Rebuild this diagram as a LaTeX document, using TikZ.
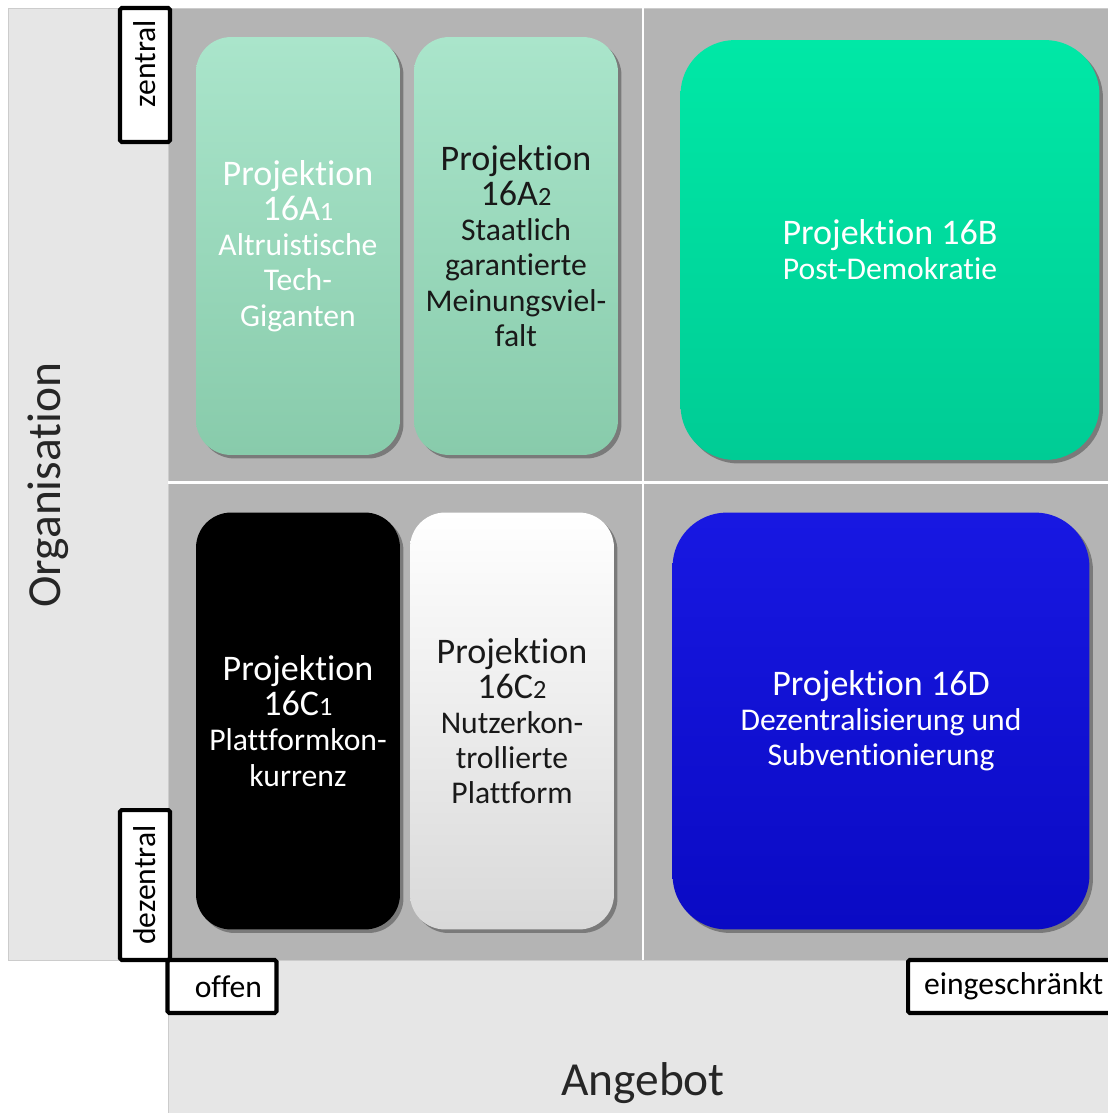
\documentclass[tikz,border=0pt]{standalone}
\usepackage{fontspec}
\setmainfont[Ligatures={NoCommon}]{Carlito}
\usetikzlibrary{shadows}
\definecolor{panelgray}{HTML}{E6E6E6}
\definecolor{fieldgray}{HTML}{B4B4B4}
\definecolor{mintlight}{HTML}{AAE5CB}
\definecolor{mintdark}{HTML}{88CBAB}
\definecolor{greenlight}{HTML}{00E8A6}
\definecolor{greendark}{HTML}{00CC95}
\definecolor{bluelight}{HTML}{1818E2}
\definecolor{bluedark}{HTML}{0A0AC4}
\newcommand{\projhead}{\fontsize{20.5}{21}\selectfont}
\newcommand{\projsub}{\fontsize{18}{20}\selectfont}
\newcommand{\idx}[1]{{\fontsize{15}{15}\selectfont #1}}
\begin{document}
\begin{tikzpicture}[x=0.02cm, y=-0.02cm,
  proj/.style={rounded corners=20pt, minimum width=4.08cm, minimum height=8.36cm, align=center, inner sep=2pt,
    font=\projsub, drop shadow={shadow xshift=2pt, shadow yshift=-2pt, opacity=0.55, fill=black!70}},
  big proj/.style={proj, rounded corners=31pt, minimum width=8.38cm, minimum height=8.4cm},
  tag/.style={draw=black, line width=2.3pt, fill=white, rounded corners=1pt, inner ysep=0pt, minimum height=1cm, font=\fontsize{18}{18}\selectfont},
  axis/.style={font=\fontsize{27}{27}\selectfont, text=black!85}]
\useasboundingbox (0,0) rectangle (1107,1113);
% panels
\fill[white] (0,0) rectangle (1107,1113);
\draw[black!20, fill=panelgray] (8,8) rectangle (168,960);
\draw[black!20, fill=panelgray] (168,960) rectangle (1115,1120);
\draw[black!20, fill=fieldgray] (168,8) rectangle (1115,960);
\draw[white, line width=1.7pt] (643,8) -- (643,960);
\draw[white, line width=1.7pt] (168,482) -- (1115,482);
\begin{scope}
\node[proj, top color=mintlight, bottom color=mintdark, text=white] (p16a1) at (298,246)
  {\projhead Projektion\\\projhead 16A\idx{1}\\\projsub Altruistische\\\projsub Tech-\\\projsub Giganten};
\node[proj, top color=mintlight, bottom color=mintdark, text=black!90] (p16a2) at (516,246)
  {\projhead Projektion\\\projhead 16A\idx{2}\\\projsub Staatlich\\\projsub garantierte\\\projsub Meinungsviel-\\\projsub falt};
\node[big proj, top color=greenlight, bottom color=greendark, text=white] (p16b) at (890,250)
  {\projhead Projektion 16B\\\projsub Post-Demokratie};
\node[proj, fill=black, text=white, minimum height=8.34cm] (p16c1) at (298,721)
  {\projhead Projektion\\\projhead 16C\idx{1}\\\projsub Plattformkon-\\\projsub kurrenz};
\node[proj, top color=white, bottom color=black!15, text=black!90, minimum height=8.34cm] (p16c2) at (512,721)
  {\projhead Projektion\\\projhead 16C\idx{2}\\\projsub Nutzerkon-\\\projsub trollierte\\\projsub Plattform};
\node[big proj, top color=bluelight, bottom color=bluedark, text=white, minimum width=8.34cm, minimum height=8.34cm] (p16d) at (881,721)
  {\projhead Projektion 16D\\\projsub Dezentralisierung und\\\projsub Subventionierung};
\end{scope}
\begin{scope}
\node[axis, rotate=90] (org) at (48,485) {Organisation};
\node[axis] (ang) at (643,1083) {Angebot};
\node[tag, rotate=90, text width=2.2cm, align=right, inner xsep=0.24cm] (zentral) at (145,75) {zentral};
\node[tag, rotate=90, minimum width=3cm] (dezentral) at (145,885) {dezentral};
\node[tag, text width=1.6cm, align=right, inner xsep=0.29cm, minimum height=1.06cm] (offen) at (222,986.5) {offen};
\node[tag, text width=3.5cm, align=left, inner xsep=0.32cm, minimum height=1.06cm] (eingeschr) at (1011.5,986.5) {eingeschränkt};
\end{scope}
\end{tikzpicture}
\end{document}
